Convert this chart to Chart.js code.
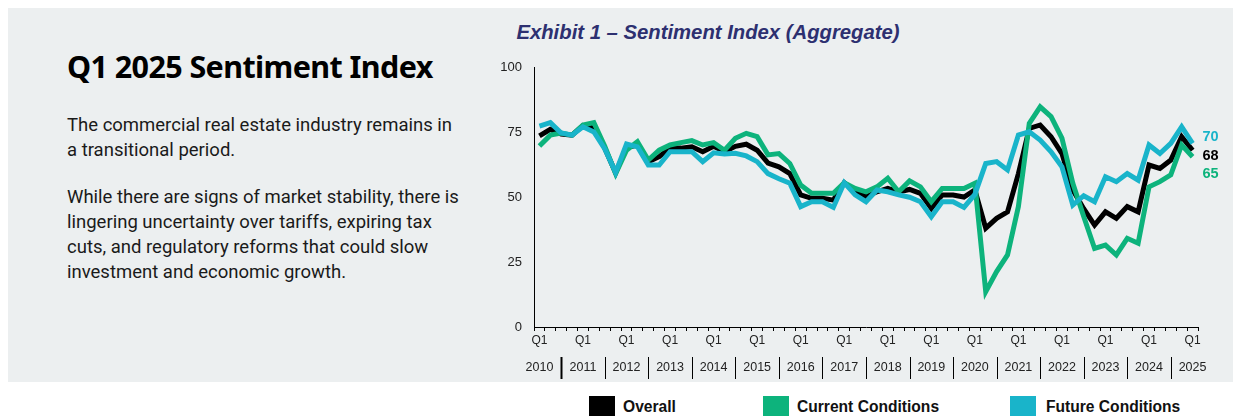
<!DOCTYPE html>
<html>
<head>
<meta charset="utf-8">
<script src="https://cdn.jsdelivr.net/npm/chart.js@4.4.1/dist/chart.umd.min.js"></script>
<style>
  html, body { margin:0; padding:0; background:#ffffff; }
  body { width:1233px; height:416px; position:relative; overflow:hidden; }
  #panel { position:absolute; left:8px; top:8px; width:1225px; height:374px; background:#eceff0; }
  #h1 { position:absolute; left:67px; top:45px; font-family:"Noto Sans", sans-serif; font-weight:700; font-size:30.5px; letter-spacing:-0.6px; color:#000; white-space:nowrap; }
  .body { position:absolute; left:67px; font-family:Roboto, sans-serif; font-size:18.5px; line-height:25px; color:#1a1a1a; white-space:nowrap; }
  #p1 { top:113px; }
  #p2 { top:185px; }
  #title { position:absolute; left:490px; width:436px; top:21px; text-align:center; font-family:"Liberation Sans", Arial, sans-serif; font-weight:700; font-style:italic; font-size:20.3px; color:#2d3070; white-space:nowrap; }
  #wrap { position:absolute; left:490px; top:55px; width:743px; height:330px; }
  .sw { position:absolute; width:26px; height:22px; }
  .lt { position:absolute; font-family:"Liberation Sans", Arial, sans-serif; font-weight:700; font-size:15.6px; color:#111; white-space:nowrap; line-height:18px; }
</style>
</head>
<body>
<div id="panel"></div>
<div id="h1">Q1 2025 Sentiment Index</div>
<div class="body" id="p1">The commercial real estate industry remains in<br>a transitional period.</div>
<div class="body" id="p2">While there are signs of market stability, there is<br>lingering uncertainty over tariffs, expiring tax<br>cuts, and regulatory reforms that could slow<br>investment and economic growth.</div>
<div id="title">Exhibit 1 – Sentiment Index (Aggregate)</div>
<div id="wrap"><canvas id="c" width="743" height="330"></canvas></div>
<div id="legend"></div>
<script>
// ---- data ----
const years = ["2010","2011","2012","2013","2014","2015","2016","2017","2018","2019","2020","2021","2022","2023","2024","2025"];
const quarters = [];
years.forEach(y => { for (let q = 1; q <= 4; q++) { if (y === "2025" && q > 1) break; quarters.push(y + " Q" + q); } });

const overall = [73.5,76,74.2,73.8,77.5,76.5,68.8,59.3,69,70,63.5,65.5,68.8,68.8,69.3,67.4,69.5,67.4,69.5,70.3,
  68,63,61.6,59,50.8,49.5,49.5,48.8,55.5,52,50.1,52,53.3,52,52.9,51.4,45.6,50.8,50.8,50,
  52.7,38,41.8,44.3,59,76.4,77.7,73.2,66.7,52.7,45.5,39.2,44.3,41.8,46.3,44.3,62.3,61,64.2,73.2,68];
const current = [69.6,73.8,74.6,73.8,77.7,78.6,69.5,59,68,71.3,64.2,68,70,70.9,71.7,70,70.9,68,72.6,74.5,
  73.2,66.2,66.7,62.9,54.6,51.4,51.4,51.4,55.5,53.3,52,53.9,57.2,52,56.2,53.9,48.2,53.3,53.3,53.3,
  55.3,13.6,21.3,27.7,46.3,78.3,84.7,80.9,72.6,55.3,42.5,30.2,31.5,27.7,34.1,32.2,53.9,55.9,58.5,70,65.5];
const future = [77.3,78.6,74.6,73.8,77,75,68.5,59.5,70.4,69.3,62.3,62.3,67.4,67.4,67.4,63.6,67,66.5,66.8,65.8,
  63.6,59,57,55.3,46.3,48.2,48.2,46,55.5,50.8,48.2,52.7,52,50.8,49.9,48.2,42.4,48.2,48.2,46,
  51,62.9,63.6,60.4,73.8,75.1,71.9,67.4,61.6,46.9,50.5,48.2,57.8,55.9,59,56.5,70,66.7,70.6,77,70.6];
const yTicks = [0,25,50,75,100];
const seriesNames = ["Overall","Current Conditions","Future Conditions"];
const endLabels = ["68","65","70"];

const colors = { black:"#000000", green:"#0db37c", teal:"#19b4ca" };
const seriesColors = [colors.black, colors.green, colors.teal];

// ---- legend (HTML) ----
const legPos = [[589,623],[763,797],[1010,1046]];
const legend = document.getElementById('legend');
seriesNames.forEach((n,i) => {
  const sw = document.createElement('div');
  sw.className='sw'; sw.style.left=legPos[i][0]+'px'; sw.style.top='396px'; sw.style.background=seriesColors[i];
  const t = document.createElement('div');
  t.className='lt'; t.style.left=legPos[i][1]+'px'; t.style.top='398px'; t.textContent=n;
  legend.appendChild(sw); legend.appendChild(t);
});

// ---- plugin for year row, separators and end labels ----
const extras = {
  id:'extras',
  afterDraw(chart) {
    const ctx = chart.ctx, xs = chart.scales.x, ys = chart.scales.y;
    ctx.save();
    ctx.fillStyle = '#222';
    ctx.font = '12.5px "Liberation Sans", Arial, sans-serif';
    ctx.textAlign = 'center'; ctx.textBaseline = 'middle';
    const yearY = 313;
    years.forEach((y, k) => {
      const idx = k*4;
      const x = xs.getPixelForValue(idx);
      ctx.fillText(y, x, yearY);
      if (k < years.length - 1) {
        const sx = Math.round(xs.getPixelForValue(idx + 2)) + 0.5;
        ctx.strokeStyle = '#000';
        ctx.lineWidth = k === 0 ? 2 : 1;
        ctx.beginPath(); ctx.moveTo(sx, yearY - 11); ctx.lineTo(sx, yearY + 11); ctx.stroke();
      }
    });
    // end labels
    const last = quarters.length - 1;
    const lx = xs.getPixelForValue(last) + 10;
    const by = ys.getPixelForValue(overall[last]);
    const offs = [6, 24, -13];
    ctx.textAlign = 'left';
    ctx.font = 'bold 14.5px "Liberation Sans", Arial, sans-serif';
    [0,1,2].forEach(i => {
      ctx.fillStyle = seriesColors[i];
      ctx.fillText(endLabels[i], lx, by + offs[i]);
    });
    ctx.restore();
  }
};

new Chart(document.getElementById('c'), {
  type:'line',
  data:{
    labels: quarters,
    datasets:[
      { label:seriesNames[2], data:future, borderColor:colors.teal, order:1 },
      { label:seriesNames[1], data:current, borderColor:colors.green, order:2 },
      { label:seriesNames[0], data:overall, borderColor:colors.black, order:3 }
    ]
  },
  options:{
    responsive:false, animation:false, devicePixelRatio:1,
    layout:{ padding:{ left:0, right:35, top:12, bottom:0 } },
    elements:{ point:{ radius:0 }, line:{ borderWidth:5, tension:0, fill:false } },
    plugins:{ legend:{ display:false }, tooltip:{ enabled:false } },
    scales:{
      x:{
        type:'category', offset:true,
        grid:{ display:true, drawOnChartArea:false, drawTicks:true, tickLength:4, color:'#000', offset:true },
        border:{ display:true, color:'#000', width:1 },
        ticks:{ autoSkip:false, maxRotation:0, minRotation:0, padding:2, color:'#222',
          font:{ family:'"Liberation Sans", Arial, sans-serif', size:12 },
          callback:(v, i) => (i % 4 === 0 ? 'Q1' : '') },
        afterFit:(s) => { s.height = 58; }
      },
      y:{
        min:0, max:100,
        afterBuildTicks:(s) => { s.ticks = yTicks.map(v => ({ value:v })); },
        grid:{ display:true, drawOnChartArea:false, drawTicks:false },
        border:{ display:true, color:'#000', width:1 },
        ticks:{ padding:12, color:'#222', font:{ family:'"Liberation Sans", Arial, sans-serif', size:13 } },
        afterFit:(s) => { s.width = 44; s.paddingTop = 0; s.paddingBottom = 0; }
      }
    }
  },
  plugins:[extras]
});
</script>
</body>
</html>
